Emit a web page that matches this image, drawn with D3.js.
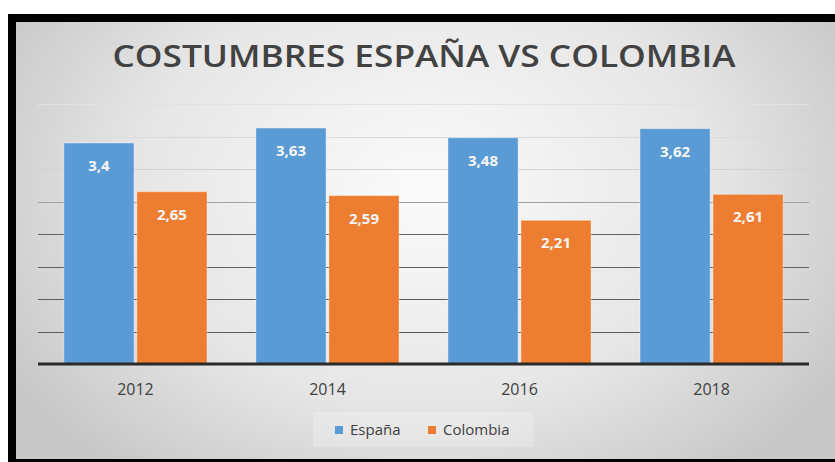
<!DOCTYPE html>
<html>
<head>
<meta charset="utf-8">
<script src="https://cdn.jsdelivr.net/npm/d3@7"></script>
<style>
  html, body { margin: 0; padding: 0; background: #ffffff; }
  svg { display: block; }
</style>
</head>
<body>
<script>
// ---- data ----
const years = ["2012", "2014", "2016", "2018"];
const seriesNames = ["España", "Colombia"];
const espana = [3.4, 3.63, 3.48, 3.62];
const colombia = [2.65, 2.59, 2.21, 2.61];
const gridTicks = [0.5, 1, 1.5, 2, 2.5, 3, 3.5, 4];
const titleText = "COSTUMBRES ESPAÑA VS COLOMBIA";
const colors = ["#5b9bd5", "#ed7d31"];

const W = 835, H = 462;
const svg = d3.select("body").append("svg").attr("width", W).attr("height", H);
const defs = svg.append("defs");

const rg = defs.append("radialGradient").attr("id", "bg")
  .attr("gradientUnits", "userSpaceOnUse")
  .attr("cx", 425).attr("cy", 190).attr("r", 480)
  .attr("gradientTransform", "translate(425,190) scale(1,0.75) translate(-425,-190)");
rg.append("stop").attr("offset", "0%").attr("stop-color", "#fbfbfb");
rg.append("stop").attr("offset", "60%").attr("stop-color", "#e6e6e6");
rg.append("stop").attr("offset", "100%").attr("stop-color", "#c8c8c8");

// frame
svg.append("rect").attr("x", 8).attr("y", 14).attr("width", W - 8).attr("height", H - 14).attr("fill", "#000");
svg.append("rect").attr("x", 16).attr("y", 22).attr("width", W - 16).attr("height", 437).attr("fill", "url(#bg)");

// scales
const y = d3.scaleLinear().domain([0, 4]).range([364, 104]);
const x0 = d3.scaleBand().domain(years).range([38, 809]).paddingInner(0.255).paddingOuter(0.135);
const x1 = d3.scaleBand().domain(seriesNames).range([0, x0.bandwidth()]).paddingInner(0.04);

// gridlines
const gridCol = d3.scaleLinear().domain([0.5, 2, 2.5, 3, 4]).range(["#5a5a5a", "#626262", "#a0a0a0", "#d2d2d2", "#e2e2e2"]);
svg.append("g").selectAll("line").data(gridTicks).join("line")
  .attr("x1", 38).attr("x2", 809)
  .attr("y1", d => Math.round(y(d)) + 0.5).attr("y2", d => Math.round(y(d)) + 0.5)
  .attr("stroke", d => gridCol(d)).attr("stroke-width", 1);

// bars
const rows = years.map((yr, i) => ({ year: yr, vals: [espana[i], colombia[i]] }));
const groups = svg.append("g").selectAll("g").data(rows).join("g")
  .attr("transform", d => `translate(${x0(d.year)},0)`);

groups.selectAll("rect").data(d => d.vals.map((v, k) => ({ name: seriesNames[k], v, k }))).join("rect")
  .attr("x", d => x1(d.name))
  .attr("y", d => y(d.v))
  .attr("width", x1.bandwidth())
  .attr("height", d => y(0) - y(d.v))
  .attr("fill", d => colors[d.k])
  .attr("stroke", "#ffffff").attr("stroke-opacity", 0.35).attr("stroke-width", 1);

groups.selectAll("text").data(d => d.vals.map((v, k) => ({ name: seriesNames[k], v, k }))).join("text")
  .attr("x", d => x1(d.name) + x1.bandwidth() / 2)
  .attr("y", d => y(d.v) + 28)
  .attr("text-anchor", "middle")
  .attr("font-family", "'Open Sans', sans-serif")
  .attr("font-weight", 700)
  .attr("font-size", 15)
  .attr("fill", "#f6f6f6")
  .text(d => String(d.v).replace(".", ","));

// x axis
const xAxis = d3.axisBottom(x0).tickSize(0).tickPadding(0);
const ax = svg.append("g").attr("transform", "translate(0,364)").call(xAxis);
ax.select(".domain").attr("d", "M38,0H809").attr("stroke", "#2a2a2a").attr("stroke-width", 3);
ax.selectAll(".tick text")
  .attr("y", 31).attr("dy", 0)
  .attr("font-family", "'Open Sans', sans-serif")
  .attr("font-size", 16)
  .attr("fill", "#404040");

// title
svg.append("text")
  .attr("x", 424).attr("y", 67)
  .attr("text-anchor", "middle")
  .attr("font-family", "'Open Sans', sans-serif")
  .attr("font-weight", 600)
  .attr("font-size", 31)
  .attr("fill", "#424242")
  .attr("textLength", 623).attr("lengthAdjust", "spacingAndGlyphs")
  .text(titleText);

// legend
const leg = svg.append("g");
leg.append("rect").attr("x", 313).attr("y", 412).attr("width", 220).attr("height", 35)
  .attr("fill", "#ffffff").attr("fill-opacity", 0.22);
const legX = [335, 428];
const legItems = leg.selectAll("g").data(seriesNames).join("g")
  .attr("transform", (d, i) => `translate(${legX[i]},0)`);
legItems.append("rect").attr("x", 0).attr("y", 426).attr("width", 8).attr("height", 8)
  .attr("fill", (d, i) => colors[i]);
legItems.append("text").attr("x", 15).attr("y", 435)
  .attr("font-family", "'Open Sans', sans-serif")
  .attr("font-size", 15)
  .attr("fill", "#404040")
  .text(d => d);
</script>
</body>
</html>
